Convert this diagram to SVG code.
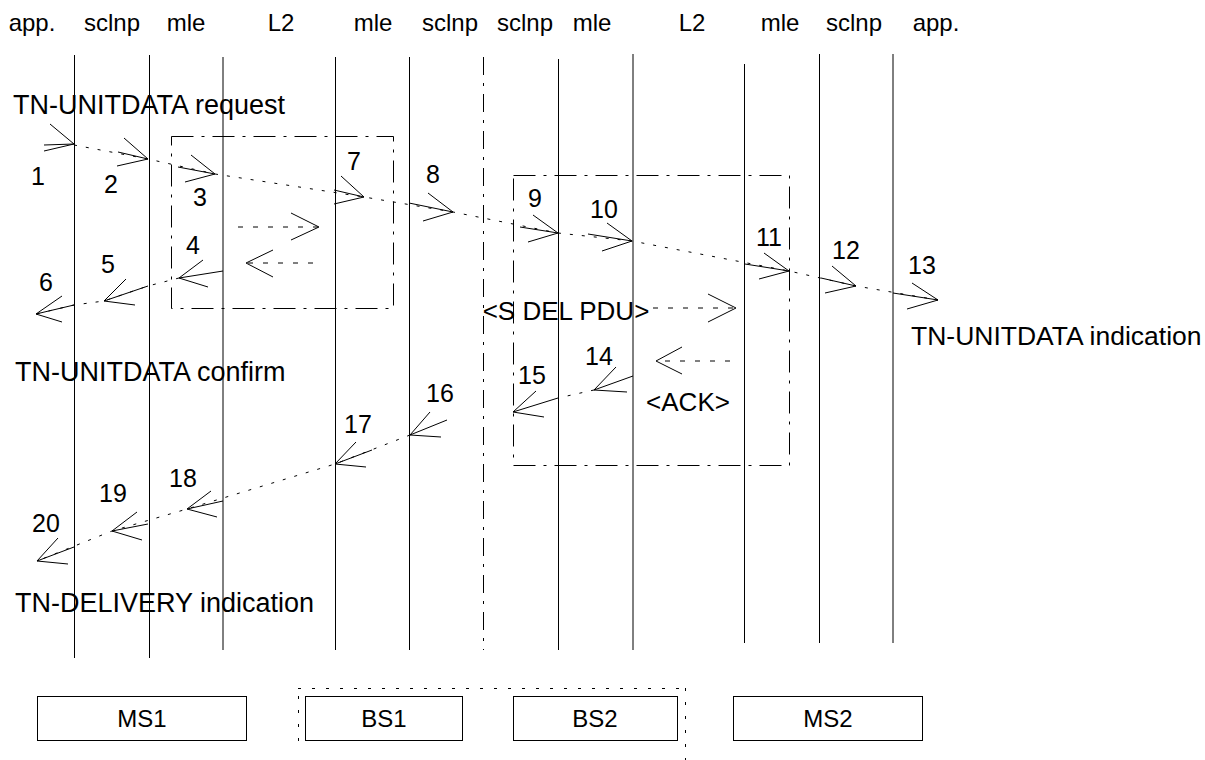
<svg xmlns="http://www.w3.org/2000/svg" width="1205" height="760" viewBox="0 0 1205 760">
<style>
text{font-family:"Liberation Sans",Arial,sans-serif;fill:#000}
.hdr{font-size:24px;text-anchor:middle}
.body{font-size:27px}
.num{font-size:25px;text-anchor:middle}
.box-label{font-size:24px;text-anchor:middle}
.life{stroke:#000;stroke-width:1;fill:none}
.sep{stroke:#000;stroke-width:1;fill:none;stroke-dasharray:18 8 3 8}
.frame{stroke:#000;stroke-width:1;fill:none;stroke-dasharray:22 8 3 8}
.dot{stroke:#000;stroke-width:1;fill:none;stroke-dasharray:3 9}
.hdot{stroke:#000;stroke-width:1;fill:none;stroke-dasharray:5 10}
.head{stroke:#000;stroke-width:1;fill:none}
.box{stroke:#000;stroke-width:1;fill:#fff}
.group{stroke:#000;stroke-width:1;fill:none;stroke-dasharray:3 11}
</style>
<rect width="1205" height="760" fill="#fff"/>

<g id="lifelines">
  <g id="ll-app1"><text class="hdr" x="32" y="31">app.</text><line class="life" x1="74.5" y1="55" x2="74.5" y2="658"/></g>
  <g id="ll-sclnp1"><text class="hdr" x="112" y="31">sclnp</text><line class="life" x1="149.5" y1="55" x2="149.5" y2="658"/></g>
  <g id="ll-mle1"><text class="hdr" x="186" y="31">mle</text><line class="life" x1="223" y1="57" x2="223" y2="650"/></g>
  <g id="ll-L2a"><text class="hdr" x="281" y="31">L2</text><line class="life" x1="335.5" y1="57" x2="335.5" y2="650"/></g>
  <g id="ll-mle2"><text class="hdr" x="373" y="31">mle</text><line class="life" x1="409.5" y1="57" x2="409.5" y2="650"/></g>
  <g id="ll-sclnp2"><text class="hdr" x="450" y="31">sclnp</text><line class="sep" x1="483.5" y1="57" x2="483.5" y2="650"/></g>
  <g id="ll-sclnp3"><text class="hdr" x="525" y="31">sclnp</text><line class="life" x1="558.5" y1="59" x2="558.5" y2="650"/></g>
  <g id="ll-mle3"><text class="hdr" x="592" y="31">mle</text><line class="life" x1="633" y1="54" x2="633" y2="650"/></g>
  <g id="ll-L2b"><text class="hdr" x="692" y="31">L2</text><line class="life" x1="744.5" y1="64" x2="744.5" y2="643"/></g>
  <g id="ll-mle4"><text class="hdr" x="780" y="31">mle</text><line class="life" x1="819.5" y1="54" x2="819.5" y2="643"/></g>
  <g id="ll-sclnp4"><text class="hdr" x="854" y="31">sclnp</text><line class="life" x1="893" y1="54" x2="893" y2="643"/></g>
  <g id="ll-app2"><text class="hdr" x="936" y="31">app.</text></g>
</g>

<g id="frames">
  <rect id="frame-ms1" class="frame" x="171.5" y="136.5" width="222" height="172"/>
  <rect id="frame-bs2" class="frame" x="513.5" y="175.5" width="276" height="290"/>
</g>

<g id="primitives">
  <text class="body" x="13" y="114">TN-UNITDATA request</text>
  <text class="body" x="911" y="345" style="font-size:26.5px">TN-UNITDATA indication</text>
  <text class="body" x="15" y="381">TN-UNITDATA confirm</text>
  <text class="body" x="15" y="612">TN-DELIVERY indication</text>
  <text class="body" x="566" y="320" text-anchor="middle" style="font-size:26px">&lt;S DEL PDU&gt;</text>
  <text class="body" x="688" y="411" text-anchor="middle" style="font-size:26px">&lt;ACK&gt;</text>
</g>

<g id="connectors">
  <polyline class="dot" points="74,145 148,159 215,174 364,197 453,212 558,233 632,241 789,271 856,286 938,300"/>
  <path class="head" d="M44,145 L74,144 M50,124 L74,144 L44,151"/>
  <path class="head" d="M118,152 L148,159 M124,138 L148,159 L117,166"/>
  <path class="head" d="M178,167 L215,174 M191,155 L215,174 L185,182"/>
  <path class="head" d="M334,190 L364,197 M341,176 L364,197 L334,204"/>
  <path class="head" d="M409,203 L453,212 M428,193 L453,212 L423,221"/>
  <path class="head" d="M520,227 L558,233 M533,215 L558,233 L528,242"/>
  <path class="head" d="M588,234 L632,241 M607,223 L632,241 L602,251"/>
  <path class="head" d="M745,264 L789,271 M764,253 L789,271 L759,279"/>
  <path class="head" d="M821,278 L856,286 M832,266 L856,286 L825,293"/>
  <path class="head" d="M893,293 L938,300 M912,283 L938,300 L907,309"/>

  <line class="hdot" x1="238" y1="227" x2="319" y2="227"/>
  <path class="head" d="M291,213 L319,227 L291,240"/>
  <line class="hdot" x1="313" y1="263" x2="246" y2="263"/>
  <path class="head" d="M273,250 L246,263 L273,277"/>

  <polyline class="dot" points="179,278 148,286 104,301 74,305 36,314"/>
  <path class="head" d="M223,271 L179,278 M203,260 L179,278 L208,287"/>
  <path class="head" d="M148,286 L104,301 M126,279 L104,301 L135,305"/>
  <path class="head" d="M74,305 L36,314 M62,296 L36,314 L62,322"/>

  <line class="hdot" x1="653" y1="308" x2="736" y2="308"/>
  <path class="head" d="M708,294 L736,308 L708,322"/>
  <line class="hdot" x1="730" y1="361" x2="656" y2="361"/>
  <path class="head" d="M682,347 L656,361 L682,374"/>

  <line class="dot" x1="594" y1="390" x2="558" y2="398"/>
  <path class="head" d="M633,376 L594,390 M616,367 L594,390 L627,392"/>
  <path class="head" d="M558,398 L513,412 M536,391 L513,412 L544,417"/>

  <polyline class="dot" points="410,435 335,464 187,509 112,531 37,561"/>
  <path class="head" d="M447,420 L410,435 M430,412 L410,435 L441,437"/>
  <path class="head" d="M372,450 L335,464 M356,442 L335,464 L366,467"/>
  <path class="head" d="M223,501 L187,509 M211,491 L187,509 L217,517"/>
  <path class="head" d="M148,524 L112,531 M137,512 L112,531 L142,540"/>
  <path class="head" d="M74,547 L37,561 M58,538 L37,561 L68,564"/>
</g>

<g id="labels">
  <text class="num" x="38" y="185">1</text>
  <text class="num" x="111" y="193">2</text>
  <text class="num" x="200" y="206">3</text>
  <text class="num" x="193" y="254">4</text>
  <text class="num" x="108" y="273">5</text>
  <text class="num" x="46" y="291">6</text>
  <text class="num" x="354" y="170">7</text>
  <text class="num" x="433" y="183">8</text>
  <text class="num" x="535" y="207">9</text>
  <text class="num" x="604" y="218">10</text>
  <text class="num" x="769" y="246">11</text>
  <text class="num" x="846" y="259">12</text>
  <text class="num" x="922" y="274">13</text>
  <text class="num" x="599" y="365">14</text>
  <text class="num" x="532" y="384">15</text>
  <text class="num" x="440" y="402">16</text>
  <text class="num" x="358" y="433">17</text>
  <text class="num" x="183" y="487">18</text>
  <text class="num" x="113" y="502">19</text>
  <text class="num" x="46" y="532">20</text>
</g>

<g id="bs-group">
  <path class="group" d="M298,688.5 L686,688.5 M298.5,696 L298.5,745 M685.5,688 L685.5,760"/>
</g>
<g id="node-ms1"><rect class="box" x="37.5" y="696.5" width="209" height="44"/><text class="box-label" x="142" y="727">MS1</text></g>
<g id="node-bs1"><rect class="box" x="305.5" y="696.5" width="157" height="44"/><text class="box-label" x="384" y="727">BS1</text></g>
<g id="node-bs2"><rect class="box" x="513.5" y="696.5" width="164" height="44"/><text class="box-label" x="595" y="727">BS2</text></g>
<g id="node-ms2"><rect class="box" x="733.5" y="696.5" width="189" height="44"/><text class="box-label" x="828" y="727">MS2</text></g>
</svg>
